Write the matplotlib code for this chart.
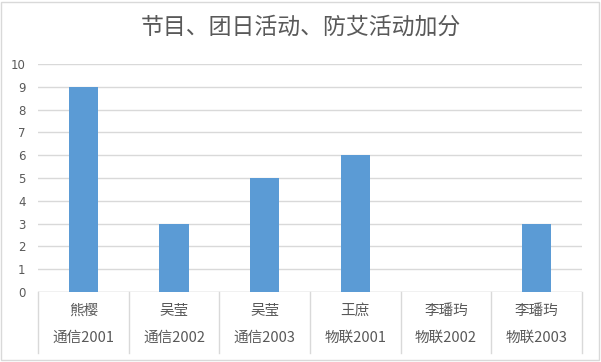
import matplotlib
matplotlib.use("Agg")
import matplotlib.pyplot as plt
from matplotlib.patches import Rectangle

plt.rcParams['font.family'] = ['Noto Sans CJK SC', 'DejaVu Sans']

names = ["熊樱", "吴莹", "吴莹", "王庶", "李璠玙", "李璠玙"]
classes = ["通信2001", "通信2002", "通信2003", "物联2001", "物联2002", "物联2003"]
scores = [9, 3, 5, 6, 0, 3]
yticks = list(range(0, 11))

grid_c = "#D9D9D9"
text_c = "#595959"

fig = plt.figure(figsize=(6.01, 3.62), dpi=100)
ax = fig.add_axes([38 / 601, 70 / 362, 544 / 601, 228 / 362])

x = list(range(len(names)))
ax.bar(x, scores, width=0.32, color="#5B9BD5", zorder=3)

ax.set_xlim(-0.5, len(names) - 0.5)
ax.set_ylim(0, 10)
ax.set_yticks(yticks)
ax.set_yticklabels([str(v) for v in yticks], fontsize=8.5, color=text_c,
                   family=['DejaVu Sans'])
ax.tick_params(axis='y', length=0, pad=9)
ax.set_xticks([])
ax.yaxis.grid(True, color=grid_c, linewidth=1)
for s in ax.spines.values():
    s.set_visible(False)
ax.axhline(0, color=grid_c, linewidth=1, zorder=2)

# category boxes below the axis
xt = ax.get_xaxis_transform()
for i in range(len(names) + 1):
    ax.plot([i - 0.5, i - 0.5], [0, -61 / 228], transform=xt, color=grid_c,
            linewidth=1, clip_on=False)
for i in x:
    ax.text(i, -19 / 228, names[i], transform=xt, ha='center', va='center',
            fontsize=10.5, color=text_c, fontweight='light')
    ax.text(i, -46 / 228, classes[i], transform=xt, ha='center', va='center',
            fontsize=10.5, color=text_c, fontweight='light')

fig.text(0.5, 1 - 27 / 362, "节目、团日活动、防艾活动加分", ha='center', va='center',
         fontsize=16.5, color=text_c, fontweight='light')

fig.patches.append(Rectangle((1 / 601, 2 / 362), 598 / 601, 358 / 362,
                             transform=fig.transFigure, fill=False,
                             edgecolor=grid_c, linewidth=1))

fig.savefig("out.png", dpi=100)
